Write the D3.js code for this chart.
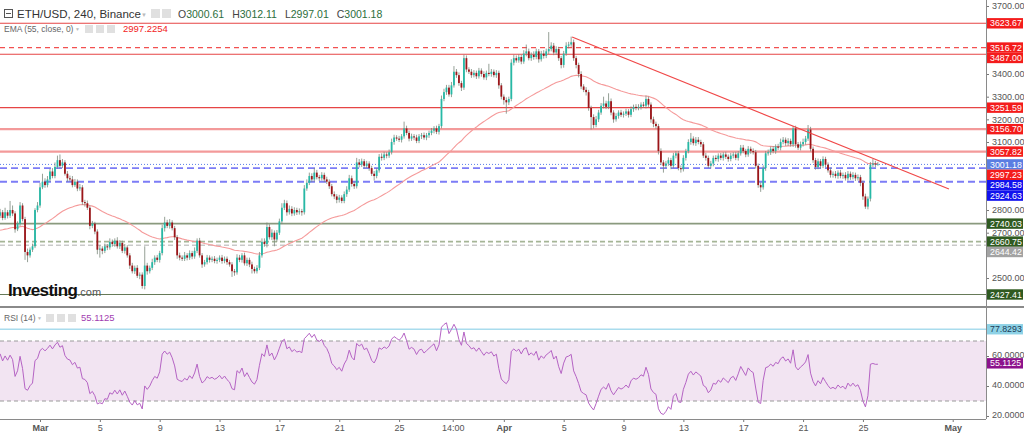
<!DOCTYPE html>
<html>
<head>
<meta charset="utf-8">
<script src="https://cdn.jsdelivr.net/npm/d3@7"></script>
<style>
  body { margin: 0; background: #fff; }
  svg { display: block; font-family: "Liberation Sans", Arial, sans-serif; }
</style>
</head>
<body>
<div id="chart"></div>
<script>
// ---- data (4h candles, ETH/USD Binance) ----
const firstCandle = Date.UTC(2022, 1, 26, 8);   // Feb 26 08:00
const firstOpen = 2775;

// close of each 4h candle, one row per day
const closes = [
  2790, 2765, 2790, 2775,                         // Feb 26
  2800, 2785, 2715, 2740, 2820, 2760,             // Feb 27
  2615, 2600, 2625, 2640, 2800, 2820,             // Feb 28
  2900, 2925, 2910, 2935, 2970, 2950,             // Mar 1
  2990, 3020, 2995, 3010, 2960, 2940,
  2935, 2910, 2925, 2895, 2900, 2835,
  2830, 2810, 2730, 2740, 2705, 2625,
  2630, 2620, 2640, 2635, 2660, 2650,             // Mar 5
  2665, 2640, 2655, 2620, 2635, 2600,
  2555, 2530, 2545, 2510, 2515, 2465,
  2555, 2530, 2545, 2570, 2590, 2580,
  2610, 2720, 2745, 2730, 2745, 2720,             // Mar 9
  2680, 2600, 2590, 2585, 2600, 2590,
  2610, 2595, 2620, 2665, 2600, 2560,
  2570, 2590, 2580, 2585, 2575, 2580,
  2590, 2575, 2585, 2570, 2560, 2530,             // Mar 13
  2525, 2590, 2580, 2600, 2565, 2580,
  2560, 2540, 2530, 2545, 2600, 2660,
  2650, 2725, 2680, 2700, 2670, 2700,
  2750, 2810, 2830, 2790, 2805, 2785,             // Mar 17
  2800, 2790, 2795, 2790, 2895, 2920,
  2950, 2935, 2965, 2945, 2940, 2955,
  2935, 2925, 2905, 2870, 2860, 2845,
  2855, 2840, 2870, 2890, 2940, 2915,             // Mar 21
  2905, 3010, 3000, 3015, 2995, 3005,
  2985, 2960, 2950, 2975, 3035, 3030,
  3045, 3040, 3055, 3100, 3120, 3115,
  3110, 3125, 3160, 3140, 3115, 3125,             // Mar 25
  3120, 3105, 3125, 3130, 3120, 3130,
  3140, 3150, 3160, 3145, 3170, 3290,
  3320, 3340, 3310, 3350, 3410, 3395,
  3360, 3340, 3470, 3420, 3410, 3395,             // Mar 29
  3405, 3390, 3415, 3400, 3385, 3405,
  3400, 3410, 3395, 3405, 3350, 3300,
  3285, 3275, 3290, 3450, 3470, 3460,             // Apr 1
  3475, 3455, 3490, 3500, 3470, 3485,
  3475, 3500, 3465, 3490, 3480, 3500,
  3510, 3525, 3495, 3510, 3470, 3440,
  3490, 3525, 3530, 3540, 3470, 3440,             // Apr 5
  3400, 3345, 3330, 3320, 3250, 3210,
  3175, 3200, 3230, 3260, 3270, 3255,
  3280, 3230, 3200, 3215, 3230, 3220,
  3225, 3235, 3220, 3245, 3255, 3250,             // Apr 9
  3255, 3265, 3260, 3290, 3265, 3200,
  3180, 3170, 3060, 3010, 2995, 3005,
  3020, 2995, 3040, 3050, 2985, 2980,
  3030, 3060, 3100, 3115, 3095, 3110,             // Apr 13
  3100, 3090, 3040, 3030, 2995, 3005,
  3030, 3025, 3040, 3030, 3045, 3035,
  3025, 3040, 3045, 3030, 3050, 3075,
  3060, 3045, 3070, 3060, 3055, 2995,             // Apr 17
  2910, 2900, 2985, 3050, 3055, 3070,
  3060, 3080, 3075, 3100, 3110, 3095,
  3105, 3090, 3160, 3090, 3075, 3090,
  3100, 3115, 3155, 3070, 3020, 2990,             // Apr 21
  3015, 2995, 3025, 3000, 2975, 2955,
  2960, 2950, 2965, 2950, 2955, 2940,
  2960, 2945, 2955, 2940, 2945, 2920,
  2860, 2815, 2850, 3000, 3005, 3000.61,          // Apr 25
  3001.18                                         // Apr 26
];

// upper wick above the body top, per candle
const wickUp = [
  15, 10, 20, 10,
  40, 20, 10, 10, 15, 10,
  10, 15, 10, 12, 8, 15,
  20, 35, 15, 15, 12, 15,
  20, 20, 25, 15, 10, 12,
  12, 15, 12, 10, 15, 10,
  10, 12, 10, 12, 8, 10,
  15, 10, 12, 10, 15, 10,
  10, 15, 12, 10, 15, 10,
  10, 12, 10, 12, 10, 10,
  85, 12, 10, 15, 10, 12,
  10, 15, 25, 12, 15, 10,
  10, 10, 12, 10, 15, 10,
  12, 10, 15, 10, 12, 10,
  10, 12, 10, 10, 12, 10,
  10, 12, 10, 10, 10, 10,
  10, 15, 12, 10, 12, 10,
  10, 12, 10, 12, 15, 15,
  15, 20, 12, 15, 10, 12,
  12, 20, 15, 12, 15, 12,
  12, 10, 12, 10, 15, 15,
  15, 12, 20, 12, 10, 12,
  10, 12, 10, 10, 12, 10,
  12, 10, 12, 15, 15, 12,
  10, 20, 15, 12, 10, 12,
  10, 10, 12, 10, 12, 15,
  12, 10, 12, 15, 12, 10,
  12, 10, 30, 12, 10, 12,
  10, 12, 10, 10, 12, 10,
  10, 12, 10, 12, 10, 15,
  15, 12, 12, 15, 25, 12,
  12, 10, 15, 12, 10, 12,
  12, 10, 12, 10, 12, 10,
  40, 12, 10, 12, 10, 10,
  10, 12, 10, 15, 15, 12,
  12, 10, 15, 30, 12, 10,
  15, 12, 10, 12, 15, 12,
  75, 15, 12, 12, 10, 10,
  12, 15, 12, 25, 12, 10,
  10, 12, 10, 12, 10, 10,
  12, 15, 12, 12, 30, 12,
  35, 12, 10, 12, 10, 12,
  10, 12, 10, 12, 10, 12,
  12, 10, 12, 15, 10, 10,
  12, 10, 10, 12, 10, 12,
  12, 10, 12, 10, 10, 12,
  12, 10, 12, 25, 10, 12,
  12, 10, 10, 12, 10, 12,
  10, 12, 10, 12, 10, 12,
  10, 12, 10, 12, 10, 12,
  12, 10, 12, 10, 12, 10,
  10, 12, 12, 10, 12, 10,
  12, 10, 12, 15, 12, 10,
  12, 10, 10, 12, 10, 12,
  15, 12, 20, 12, 10, 10,
  12, 10, 12, 10, 10, 12,
  10, 12, 10, 12, 10, 12,
  12, 10, 12, 10, 12, 10,
  10, 12, 10, 12, 20, 12,
  10.93
];

// lower wick below the body bottom, per candle
const wickDown = [
  10, 10, 8, 12,
  10, 12, 15, 8, 10, 10,
  35, 30, 10, 10, 8, 10,
  10, 8, 12, 10, 10, 10,
  10, 8, 12, 10, 8, 15,
  10, 10, 8, 12, 10, 12,
  15, 10, 15, 10, 12, 20,
  35, 15, 10, 12, 10, 12,
  12, 10, 12, 10, 12, 10,
  15, 10, 12, 10, 15, 12,
  15, 15, 10, 10, 12, 10,
  12, 10, 15, 10, 12, 10,
  12, 15, 12, 10, 10, 12,
  10, 12, 10, 10, 10, 15,
  10, 10, 12, 10, 10, 12,
  10, 12, 10, 12, 10, 25,
  15, 10, 10, 12, 10, 12,
  12, 20, 10, 10, 10, 10,
  12, 15, 10, 12, 30, 10,
  10, 12, 10, 15, 10, 12,
  10, 12, 10, 15, 10, 10,
  10, 12, 10, 10, 12, 10,
  12, 10, 12, 10, 12, 15,
  12, 10, 10, 12, 10, 12,
  12, 10, 12, 10, 12, 10,
  12, 10, 20, 10, 10, 12,
  10, 12, 10, 10, 12, 10,
  10, 12, 10, 10, 12, 10,
  12, 10, 10, 12, 10, 12,
  12, 10, 12, 10, 12, 10,
  10, 12, 10, 12, 10, 12,
  12, 15, 10, 12, 10, 12,
  10, 12, 10, 12, 10, 12,
  10, 12, 10, 12, 15, 12,
  20, 50, 12, 10, 12, 10,
  10, 12, 10, 12, 10, 12,
  12, 10, 15, 10, 12, 10,
  12, 10, 12, 10, 12, 15,
  12, 10, 12, 10, 12, 15,
  15, 12, 10, 15, 12, 55,
  15, 10, 12, 10, 12, 10,
  10, 12, 15, 10, 12, 10,
  12, 10, 12, 10, 12, 10,
  10, 12, 10, 12, 10, 15,
  15, 12, 15, 12, 30, 10,
  10, 15, 10, 12, 10, 15,
  10, 12, 10, 12, 10, 12,
  10, 12, 10, 12, 10, 12,
  12, 10, 12, 10, 12, 10,
  12, 10, 12, 10, 12, 10,
  10, 12, 10, 12, 10, 12,
  12, 20, 10, 12, 10, 12,
  10, 12, 10, 12, 10, 12,
  12, 10, 12, 15, 10, 12,
  10, 12, 10, 12, 12, 12,
  10, 12, 10, 12, 10, 12,
  12, 10, 12, 10, 12, 10,
  10, 12, 10, 12, 10, 15,
  15, 10, 12, 12, 10, 12,
  3.6
];

const emaSeed = 2708;
const rsiSeedGain = 14;
const rsiSeedLoss = 9.5;

// horizontal levels drawn on the price pane
const levelPrices = [3623.67, 3516.72, 3487.00, 3251.59, 3156.70, 3057.82, 3001.18, 2984.58, 2924.63, 2740.03, 2660.75, 2644.42, 2427.41];
const levelKinds  = ["res", "resDash", "res", "res", "resSoft", "resSoft", "last", "sup", "sup", "green", "greenDash", "greyDash", "greenDark"];

// price tags on the right axis
const tagPrices = [3623.67, 3516.72, 3487.00, 3251.59, 3156.70, 3057.82, 3001.18, 2997.23, 2984.58, 2924.63, 2740.03, 2660.75, 2644.42, 2427.41];
const tagKinds  = ["red", "red", "red", "red", "red", "red", "last", "red", "blue", "blue", "dgreen", "dgreen", "grey", "dgreen"];

// downtrend line (two anchor points)
const trendDates  = [Date.UTC(2022, 3, 5, 13, 30), Date.UTC(2022, 3, 30, 18, 0)];
const trendPrices = [3563, 2893];

const priceTicks = [2400, 2500, 2600, 2700, 2800, 2900, 3000, 3100, 3200, 3300, 3400, 3500, 3600, 3700];
const rsiTicks = [20, 40, 60, 80];
const rsiBand = [30, 70];
const rsiMarker = 77.8293;
const rsiLast = 55.1125;

const timeTicks = [
  Date.UTC(2022, 2, 1), Date.UTC(2022, 2, 5), Date.UTC(2022, 2, 9), Date.UTC(2022, 2, 13),
  Date.UTC(2022, 2, 17), Date.UTC(2022, 2, 21), Date.UTC(2022, 2, 25), Date.UTC(2022, 2, 28, 14),
  Date.UTC(2022, 3, 1), Date.UTC(2022, 3, 5), Date.UTC(2022, 3, 9), Date.UTC(2022, 3, 13),
  Date.UTC(2022, 3, 17), Date.UTC(2022, 3, 21), Date.UTC(2022, 3, 25), Date.UTC(2022, 4, 1)
];
const timeLabels = ["Mar", "5", "9", "13", "17", "21", "25", "14:00", "Apr", "5", "9", "13", "17", "21", "25", "May"];

const ohlcText = [["O", "3000.61"], ["H", "3012.11"], ["L", "2997.01"], ["C", "3001.18"]];
const emaText = "2997.2254";

// ---- styles ----
const W = 1024, H = 433;
const plotR = 986;
const mainBottom = 305;
const rsiTop = 309, rsiBottom = 419;
const UP = "#26b9a6", DOWN = "#9c1519", WICK = "#7b897c";

const LEVEL_STYLE = {
  res:       { stroke: "#e64545", width: 1.1 },
  resDash:   { stroke: "#f25050", width: 1.2, dash: "5,4" },
  resSoft:   { stroke: "#f39a9a", width: 2.2 },
  last:      { stroke: "#5b7fe8", width: 1, dash: "1,2" },
  sup:       { stroke: "#7c7cf6", width: 1.8, dash: "7,4" },
  green:     { stroke: "#8a9a7e", width: 1.6 },
  greenDash: { stroke: "#a5b596", width: 1.6, dash: "5,3" },
  greyDash:  { stroke: "#c9c9c9", width: 1.6, dash: "5,3" },
  greenDark: { stroke: "#667a58", width: 1.2 }
};
const TAG_STYLE = {
  red:    { bg: "#f41c1c", fg: "#fff" },
  last:   { bg: "#5a7de2", fg: "#fff" },
  blue:   { bg: "#1212ee", fg: "#fff" },
  dgreen: { bg: "#2f5a20", fg: "#fff" },
  grey:   { bg: "#a3a3a3", fg: "#fff" }
};

// ---- scales ----
const x = d3.scaleUtc()
  .domain([new Date(Date.UTC(2022, 2, 1)), new Date(Date.UTC(2022, 4, 1))])
  .range([40, 952.7]);
const y = d3.scaleLinear().domain([2400, 3700]).range([300.7, 6]);
const yR = d3.scaleLinear().domain([20, 80]).range([416, 326]);

const candles = closes.map((c, i) => {
  const o = i ? closes[i - 1] : firstOpen;
  return {
    t: new Date(firstCandle + i * 4 * 3600e3),
    o, c,
    h: Math.max(o, c) + wickUp[i],
    l: Math.min(o, c) - wickDown[i]
  };
});
if (wickUp.length !== closes.length || wickDown.length !== closes.length) console.warn("length mismatch", closes.length, wickUp.length, wickDown.length);

// EMA 55
const k = 2 / 56;
let e = emaSeed;
const ema = candles.map(d => (e = e + k * (d.c - e)));

// RSI 14 (Wilder)
let ag = rsiSeedGain, al = rsiSeedLoss;
const rsi = candles.map((d, i) => {
  const prev = i ? candles[i - 1].c : firstOpen;
  const ch = d.c - prev;
  ag = (ag * 13 + Math.max(ch, 0)) / 14;
  al = (al * 13 + Math.max(-ch, 0)) / 14;
  return 100 - 100 / (1 + ag / al);
});

// ---- svg ----
const svg = d3.select("#chart").append("svg").attr("width", W).attr("height", H);
svg.append("rect").attr("width", W).attr("height", H).attr("fill", "#fff");

const defs = svg.append("defs");
defs.append("clipPath").attr("id", "clipMain").append("rect").attr("x", 0).attr("y", 0).attr("width", plotR).attr("height", mainBottom);
defs.append("clipPath").attr("id", "clipRsi").append("rect").attr("x", 0).attr("y", rsiTop).attr("width", plotR).attr("height", rsiBottom - rsiTop);

const main = svg.append("g").attr("clip-path", "url(#clipMain)");

// levels
main.selectAll("line.level")
  .data(levelPrices)
  .enter().append("line")
  .attr("class", "level")
  .attr("x1", 0).attr("x2", plotR)
  .attr("y1", d => y(d)).attr("y2", d => y(d))
  .attr("stroke", (d, i) => LEVEL_STYLE[levelKinds[i]].stroke)
  .attr("stroke-width", (d, i) => LEVEL_STYLE[levelKinds[i]].width)
  .attr("stroke-dasharray", (d, i) => LEVEL_STYLE[levelKinds[i]].dash || null);

// ema
main.append("path")
  .datum(candles)
  .attr("fill", "none")
  .attr("stroke", "#f59a9a")
  .attr("stroke-width", 1.1)
  .attr("d", d3.line().x(d => x(d.t)).y((d, i) => y(ema[i])));

// candles
const cg = main.append("g");
cg.selectAll("line.wick")
  .data(candles)
  .enter().append("line")
  .attr("x1", d => x(d.t)).attr("x2", d => x(d.t))
  .attr("y1", d => y(d.h)).attr("y2", d => y(d.l))
  .attr("stroke", WICK).attr("stroke-width", 0.8);

cg.selectAll("rect.body")
  .data(candles)
  .enter().append("rect")
  .attr("x", d => x(d.t) - 0.9)
  .attr("width", 1.8)
  .attr("y", d => y(Math.max(d.o, d.c)))
  .attr("height", d => Math.max(0.8, Math.abs(y(d.o) - y(d.c))))
  .attr("fill", d => d.c >= d.o ? UP : DOWN);

// trend line
main.append("line")
  .attr("x1", x(trendDates[0])).attr("y1", y(trendPrices[0]))
  .attr("x2", x(trendDates[1])).attr("y2", y(trendPrices[1]))
  .attr("stroke", "#f04848").attr("stroke-width", 1.2);

// logo
const logo = svg.append("text").attr("x", 8).attr("y", 296);
logo.append("tspan").text("Investing").attr("font-size", 17).attr("font-weight", "bold").attr("fill", "#111").attr("letter-spacing", -0.6);
logo.append("tspan").text(".com").attr("font-size", 11).attr("fill", "#555");

// header
function icons(g, xs, yTop, size) {
  xs.forEach(x0 => g.append("rect").attr("x", x0).attr("y", yTop).attr("width", size).attr("height", size).attr("fill", "#e0e0e0"));
}
const hdr = svg.append("g");
hdr.append("rect").attr("x", 4.5).attr("y", 9.5).attr("width", 8).attr("height", 8).attr("fill", "#fff").attr("stroke", "#555");
hdr.append("line").attr("x1", 6).attr("x2", 11).attr("y1", 13.5).attr("y2", 13.5).attr("stroke", "#555");
hdr.append("text").attr("x", 17).attr("y", 18).attr("font-size", 11.5).attr("fill", "#333").text("ETH/USD, 240, Binance");
hdr.append("text").attr("x", 141).attr("y", 17).attr("font-size", 6).attr("fill", "#bbb").text("▼");
icons(hdr, [151, 162], 9, 9);
const ohlc = hdr.append("text").attr("x", 178).attr("y", 18).attr("font-size", 10.5);
ohlcText.forEach(([lab, val], i) => {
  ohlc.append("tspan").attr("fill", "#444").attr("dx", i ? 8 : 0).text(lab);
  ohlc.append("tspan").attr("fill", "#2c6e3c").text(val);
});
hdr.append("text").attr("x", 4).attr("y", 32).attr("font-size", 8.5).attr("fill", "#666").text("EMA (55, close, 0)");
hdr.append("text").attr("x", 75).attr("y", 31).attr("font-size", 5).attr("fill", "#bbb").text("▼");
icons(hdr, [85, 96, 107], 25, 8);
hdr.append("text").attr("x", 123).attr("y", 32).attr("font-size", 9.5).attr("fill", "#f21d1d").text(emaText);

// pane separator
svg.append("rect").attr("x", 0).attr("y", 306).attr("width", W).attr("height", 2).attr("fill", "#8a8a8a");

// ---- RSI pane ----
const rp = svg.append("g").attr("clip-path", "url(#clipRsi)");
rp.append("rect")
  .attr("x", 0).attr("width", plotR)
  .attr("y", yR(rsiBand[1])).attr("height", yR(rsiBand[0]) - yR(rsiBand[1]))
  .attr("fill", "#f2e4f2");
rp.selectAll("line.band")
  .data(rsiBand)
  .enter().append("line")
  .attr("x1", 0).attr("x2", plotR)
  .attr("y1", d => yR(d)).attr("y2", d => yR(d))
  .attr("stroke", "#9a9a9a").attr("stroke-dasharray", "4,3");
rp.append("line")
  .attr("x1", 0).attr("x2", plotR)
  .attr("y1", yR(rsiMarker)).attr("y2", yR(rsiMarker))
  .attr("stroke", "#a9dced").attr("stroke-width", 1.4);
rp.append("path")
  .datum(rsi)
  .attr("fill", "none")
  .attr("stroke", "#b563c4")
  .attr("stroke-width", 1)
  .attr("d", d3.line().x((d, i) => x(candles[i].t)).y(d => yR(d)));

svg.append("text").attr("x", 4).attr("y", 321).attr("font-size", 8.5).attr("fill", "#666").text("RSI (14)");
svg.append("text").attr("x", 37).attr("y", 320).attr("font-size", 5).attr("fill", "#bbb").text("▼");
icons(svg, [46, 57, 68], 314, 8);
svg.append("text").attr("x", 81).attr("y", 321).attr("font-size", 9.5).attr("fill", "#a23db0").text(rsiLast.toFixed(4));

// ---- price tags (pushed apart when they overlap) ----
const tagH = 10.4;
const tags = tagPrices.map((p, i) => ({ p, kind: tagKinds[i], cy: y(p) }))
  .sort((a, b) => a.cy - b.cy);
tags.forEach((t, i) => { if (i && t.cy < tags[i - 1].cy + tagH) t.cy = tags[i - 1].cy + tagH; });
const rsiTags = [rsiMarker, rsiLast].map(v => yR(v));

// tick labels sitting under a tag are covered by it
const covered = (cy, list) => list.some(t => Math.abs(t - cy) < 7);

// ---- axes ----
const axisStyle = g => {
  g.select(".domain").remove();
  g.selectAll("line").attr("stroke", "#777");
  g.selectAll("text").attr("fill", "#555").attr("font-size", 9).attr("font-family", "Liberation Sans, Arial, sans-serif");
};
svg.append("g")
  .attr("transform", `translate(${plotR},0)`)
  .call(d3.axisRight(y).tickValues(priceTicks.filter(v => !covered(y(v), tags.map(t => t.cy))))
    .tickFormat(d3.format(".2f")).tickSize(3).tickPadding(3))
  .call(axisStyle);
svg.append("g")
  .attr("transform", `translate(${plotR},0)`)
  .call(d3.axisRight(yR).tickValues(rsiTicks.filter(v => !covered(yR(v), rsiTags)))
    .tickFormat(d3.format(".4f")).tickSize(3).tickPadding(3))
  .call(axisStyle)
  .call(g => g.selectAll("text").attr("dy", "0.12em"));
const xa = svg.append("g")
  .attr("transform", `translate(0,${rsiBottom})`)
  .call(d3.axisBottom(x).tickValues(timeTicks.map(t => new Date(t))).tickFormat((d, i) => timeLabels[i]).tickSize(3).tickPadding(3))
  .call(axisStyle);
xa.selectAll("text").attr("font-weight", (d, i) => /^[A-Z]/.test(timeLabels[i]) ? "bold" : null);

svg.append("line").attr("x1", plotR + 0.5).attr("x2", plotR + 0.5).attr("y1", 0).attr("y2", rsiBottom).attr("stroke", "#8a8a8a");
svg.append("line").attr("x1", 0).attr("x2", plotR).attr("y1", rsiBottom + 0.5).attr("y2", rsiBottom + 0.5).attr("stroke", "#8a8a8a");

function drawTag(g, cy, text, st) {
  g.append("rect").attr("x", plotR + 1).attr("y", cy - tagH / 2).attr("width", 36).attr("height", tagH).attr("fill", st.bg);
  g.append("text").attr("x", plotR + 4).attr("y", cy + 3.1).attr("font-size", 8.8).attr("fill", st.fg).text(text);
}
const tg = svg.append("g");
tags.forEach(t => drawTag(tg, t.cy, t.p.toFixed(2), TAG_STYLE[t.kind]));
drawTag(tg, yR(rsiMarker), rsiMarker.toFixed(4), { bg: "#8ed2e6", fg: "#1d3d58" });
drawTag(tg, yR(rsiLast), rsiLast.toFixed(4), { bg: "#8c128c", fg: "#fff" });
</script>
</body>
</html>
